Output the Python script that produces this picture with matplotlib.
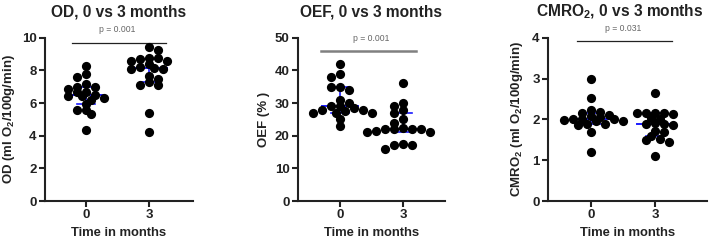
import matplotlib

matplotlib.use("Agg")
import matplotlib.pyplot as plt
import numpy as np

plt.rcParams["font.family"] = ["Liberation Sans", "DejaVu Sans"]
plt.rcParams["mathtext.fontset"] = "custom"
plt.rcParams["mathtext.rm"] = "Liberation Sans"
plt.rcParams["mathtext.bf"] = "Liberation Sans:bold"

# --- data (0 and 3 months, one value per subject) ---
GROUPS = ["0", "3"]

OD_0 = [8.25, 7.8, 7.6, 7.0, 7.15, 7.0, 6.85, 6.5, 6.65, 6.65, 6.45, 6.4,
        6.2, 5.95, 6.3, 5.6, 5.55, 5.3, 4.35]
OD_3 = [9.4, 9.25, 8.75, 8.7, 8.75, 8.55, 8.6, 8.4, 8.1, 8.1, 8.15, 8.2,
        7.5, 7.65, 7.1, 7.1, 7.3, 5.4, 4.25]

OEF_0 = [42, 39, 38, 35, 35, 34, 31, 30, 29, 29, 28.5, 28, 28, 27.5, 27,
         27, 27, 25, 23]
OEF_3 = [36, 30, 29, 28, 27, 25, 24, 22.5, 22, 22, 22, 22, 21.5, 21, 21,
         17, 17, 16, 17.5]

CMRO2_0 = [2.98, 2.52, 2.23, 2.19, 2.15, 2.11, 2.0, 2.0, 2.0, 1.98, 1.97,
           1.89, 1.86, 1.88, 1.70, 1.21, 2.05, 1.95, 2.08]
CMRO2_3 = [2.64, 2.16, 2.16, 2.15, 2.15, 2.13, 2.03, 2.0, 1.9, 1.89, 1.88,
           1.86, 1.72, 1.70, 1.6, 1.53, 1.5, 1.45, 1.1]

TITLES = ["OD, 0 vs 3 months", "OEF, 0 vs 3 months",
          r"CMRO$_\mathbf{2}$, 0 vs 3 months"]
YLABELS = [r"OD (ml O$_\mathbf{2}$/100g/min)", "OEF (% )",
           r"CMRO$_\mathbf{2}$ (ml O$_\mathbf{2}$/100g/min)"]
P_TEXT = ["p = 0.001", "p = 0.001", "p = 0.031"]
YMAX = [10, 50, 4]
YSTEP = [2, 10, 1]

DOT_PX = 9.0
BLUE = "#1a1aff"
DARK = "#222222"


def swarm(ax, x0, values, diam):
    """Greedy beeswarm in pixel space (dots may overlap a little)."""
    trans = ax.transData
    pix = trans.transform(np.column_stack([np.full(len(values), x0), values]))
    cx = pix[0, 0]
    step = 0.5 * diam
    min_d = 0.63 * diam
    placed = []
    xs = np.empty(len(values))
    for n, i in enumerate(np.argsort(-pix[:, 1])):
        py = pix[i, 1]
        side = 1 if n % 2 else -1
        cands = [0]
        for k in range(1, 14):
            cands += [side * k, -side * k]
        for k in cands:
            px = cx + k * step
            if all((px - qx) ** 2 + (py - qy) ** 2 >= min_d ** 2
                   for qx, qy in placed):
                break
        placed.append((px, py))
        xs[i] = trans.inverted().transform((px, py))[0]
    return xs


def median_iqr(ax, x0, values):
    q1, med, q3 = np.percentile(values, [25, 50, 75], method="weibull")
    ax.plot([x0 - 0.29, x0 + 0.29], [med, med], color=BLUE, lw=1.4, zorder=2)
    ax.plot([x0 - 0.15, x0 + 0.15], [q1, q1], color=BLUE, lw=1.2, zorder=2)
    ax.plot([x0 - 0.15, x0 + 0.15], [q3, q3], color=BLUE, lw=1.2, zorder=2)
    ax.plot([x0, x0], [q1, q3], color=BLUE, lw=1.2, zorder=2)


fig = plt.figure(figsize=(7.09, 2.43), dpi=100)
W, H = 709, 243
boxes = [(45, 193, -0.651, 1.698), (298, 445, -0.667, 1.667),
         (548, 707, -0.672, 1.81)]
data = [(OD_0, OD_3), (OEF_0, OEF_3), (CMRO2_0, CMRO2_3)]
bar_y = [9.7, 46, 3.92]
bar_x = [(-0.22, 1.27), (-0.3, 1.2), (-0.22, 1.27)]
bar_style = [(DARK, 0.9), ("#808080", 1.8), (DARK, 0.9)]
ylab_x = [9, 264, 517]
title_x = [119, 371, 620]

for i, (l, r, x0, x1) in enumerate(boxes):
    ax = fig.add_axes([l / W, (H - 201) / H, (r - l) / W, (201 - 37.7) / H])
    ax.set_xlim(x0, x1)
    ax.set_ylim(0, YMAX[i])
    for s in ["top", "right"]:
        ax.spines[s].set_visible(False)
    for s in ["left", "bottom"]:
        ax.spines[s].set_linewidth(1.5)
        ax.spines[s].set_color(DARK)
    ax.set_xticks([0, 1])
    ax.set_xticklabels(GROUPS)
    ax.set_yticks(np.arange(0, YMAX[i] + 0.01, YSTEP[i]))
    ax.tick_params(width=1.5, length=4, color=DARK, labelsize=9.5,
                   labelcolor=DARK, pad=2)
    for lab in ax.get_xticklabels() + ax.get_yticklabels():
        lab.set_fontweight("bold")

    for g, vals in enumerate(data[i]):
        xs = swarm(ax, g, vals, DOT_PX)
        ax.scatter(xs, vals, s=44, color="black", lw=0, zorder=3,
                   clip_on=False)
        median_iqr(ax, g, vals)

    col, lw = bar_style[i]
    ax.plot(bar_x[i], [bar_y[i], bar_y[i]], color=col, lw=lw, clip_on=False)
    ax.text(0.5, bar_y[i] + YMAX[i] * 0.05, P_TEXT[i], ha="center",
            va="bottom", fontsize=6.2, color="#666666")

    fig.text(title_x[i] / W, 1 - 12 / H, TITLES[i], ha="center",
             va="center", fontsize=11.2, fontweight="bold", color=DARK)
    ax.set_xlabel("Time in months", fontsize=9.4, fontweight="bold",
                  color=DARK, labelpad=4)
    ax.set_ylabel(YLABELS[i], fontsize=9.5, fontweight="bold", color=DARK)
    ax.yaxis.set_label_coords((ylab_x[i] - l) / (r - l), 0.5)
    ax.yaxis.label.set_verticalalignment("center")

fig.savefig("out.png", dpi=100)
